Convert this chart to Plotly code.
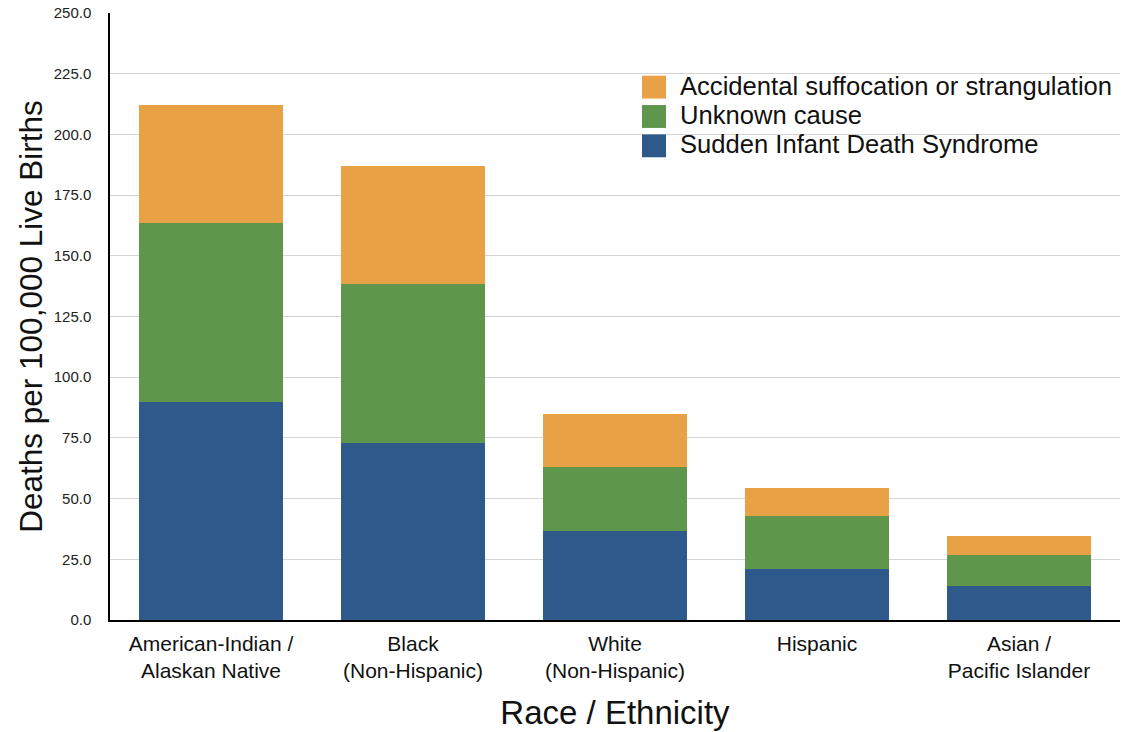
import plotly.graph_objects as go

# Infant deaths per 100,000 live births, by race / ethnicity and cause
categories = [
    "American-Indian /<br>Alaskan Native",
    "Black<br>(Non-Hispanic)",
    "White<br>(Non-Hispanic)",
    "Hispanic",
    "Asian /<br>Pacific Islander",
]
sids = [89.6, 72.7, 36.7, 20.9, 13.8]
unknown = [74.0, 65.7, 26.2, 22.0, 13.0]
accidental = [48.4, 48.5, 21.8, 11.3, 7.7]

series_names = [
    "Sudden Infant Death Syndrome",
    "Unknown cause",
    "Accidental suffocation or strangulation",
]
series_values = [sids, unknown, accidental]
series_colors = ["#2d5a8a", "#5e974c", "#e8a144"]

y_ticks = [0, 25, 50, 75, 100, 125, 150, 175, 200, 225, 250]

FONT = "Helvetica, Arial, 'Liberation Sans', sans-serif"

fig = go.Figure()
for name, vals, col in zip(series_names, series_values, series_colors):
    fig.add_trace(go.Bar(
        x=categories, y=vals, name=name,
        marker=dict(color=col, line=dict(width=0)),
        showlegend=False,
    ))

# Legend drawn as coloured squares with labels (top entry first)
legend_rows = list(zip(series_names, series_colors))[::-1]
PLOT_L, PLOT_R, PLOT_T, PLOT_B = 110, 1120, 10, 620
def px_x(x):
    return (x - PLOT_L) / (PLOT_R - PLOT_L)
def px_y(y):
    return (PLOT_B - y) / (PLOT_B - PLOT_T)

shapes = []
annotations = []
for i, (name, col) in enumerate(legend_rows):
    cy = 84.5 + i * 29.5
    shapes.append(dict(
        type="rect", xref="paper", yref="paper",
        x0=px_x(642), x1=px_x(666), y0=px_y(cy + 11.5), y1=px_y(cy - 11.5),
        fillcolor=col, line=dict(width=0),
    ))
    annotations.append(dict(
        xref="paper", yref="paper", x=px_x(678), y=px_y(cy - 1.5),
        xanchor="left", yanchor="middle", showarrow=False,
        text=name, font=dict(family=FONT, size=25.6, color="#111111"),
    ))

fig.update_layout(
    width=1124, height=732,
    margin=dict(l=PLOT_L, r=1124 - PLOT_R, t=PLOT_T, b=732 - PLOT_B),
    paper_bgcolor="white", plot_bgcolor="white",
    barmode="stack", bargap=0.287,
    font=dict(family=FONT, color="#111111"),
    shapes=shapes, annotations=annotations,
    showlegend=False,
)
fig.update_yaxes(
    range=[0, 250], tickvals=y_ticks, tickformat=".1f",
    showgrid=True, gridcolor="#d4d4d4", gridwidth=1,
    showline=True, linecolor="black", linewidth=1.5,
    zeroline=False, ticks="", ticklabelstandoff=14,
    tickfont=dict(family=FONT, size=15, color="#222222"),
    title=dict(text="Deaths per 100,000 Live Births",
               font=dict(family=FONT, size=31.5, color="#111111"), standoff=2),
)
fig.update_xaxes(
    showline=True, linecolor="black", linewidth=1.5,
    showgrid=False, ticks="", ticklabelstandoff=4,
    tickfont=dict(family=FONT, size=21, color="#111111"),
    title=dict(text="Race / Ethnicity",
               font=dict(family=FONT, size=33, color="#111111"), standoff=20),
)

fig.write_html("out.html")
